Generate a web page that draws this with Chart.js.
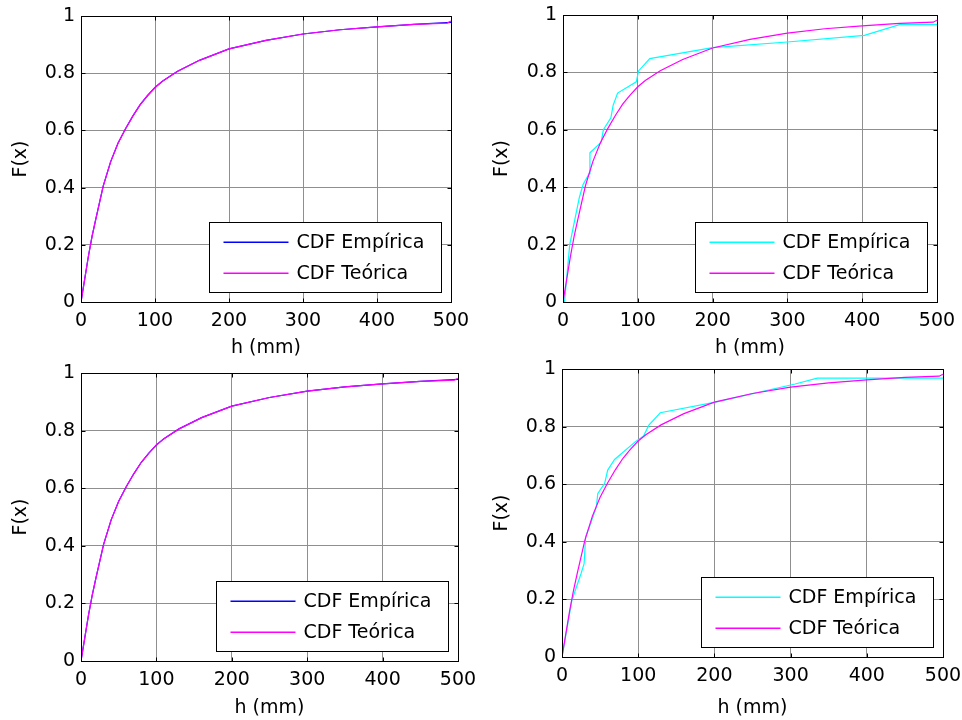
<!DOCTYPE html>
<html>
<head>
<meta charset="utf-8">
<title>CDF Empírica vs Teórica</title>
<script src="https://cdn.jsdelivr.net/npm/chart.js@4/dist/chart.umd.min.js"></script>
<style>
    html, body { margin: 0; padding: 0; background: #fff; }
    #wrap { position: relative; width: 962px; height: 720px; }
    .cell { position: absolute; width: 481px; height: 360px; }
</style>
</head>
<body>
<div id="wrap">
    <div class="cell" style="left:0;top:0"><canvas id="c1" width="481" height="360"></canvas></div>
    <div class="cell" style="left:481px;top:0"><canvas id="c2" width="481" height="360"></canvas></div>
    <div class="cell" style="left:0;top:360px"><canvas id="c3" width="481" height="360"></canvas></div>
    <div class="cell" style="left:481px;top:360px"><canvas id="c4" width="481" height="360"></canvas></div>
</div>
<script>
// Valores
const xTicks = [0, 100, 200, 300, 400, 500];
const yTicks = [0, 0.2, 0.4, 0.6, 0.8, 1];

// CDF teórica (igual nos quatro painéis)
const hTeo = [0, 5, 10, 15, 20, 30, 40, 50, 60, 70, 80, 90, 100, 110, 130, 160, 180, 200, 250, 300, 350, 400, 450, 495, 500];
const fTeo = [0, 0.08, 0.16, 0.23, 0.29, 0.405, 0.49, 0.555, 0.605, 0.65, 0.69, 0.722, 0.75, 0.772, 0.806, 0.845, 0.865, 0.885, 0.915, 0.937, 0.952, 0.962, 0.971, 0.975, 0.982];

// CDF empírica, painéis da esquerda (quase coincide com a teórica)
const hEmp1 = [0, 5, 10, 15, 20, 30, 40, 50, 60, 70, 80, 90, 100, 110, 130, 160, 180, 200, 250, 300, 350, 400, 450, 500];
const fEmp1 = [0, 0.08, 0.16, 0.23, 0.29, 0.405, 0.49, 0.555, 0.605, 0.65, 0.69, 0.722, 0.75, 0.772, 0.806, 0.845, 0.865, 0.885, 0.915, 0.937, 0.952, 0.962, 0.971, 0.978];

// CDF empírica, painel superior direito
const hEmp2 = [0, 2, 9, 22, 27, 35, 36, 51, 54, 64, 67, 73, 98, 101, 116, 200, 300, 403, 451, 500];
const fEmp2 = [0, 0, 0.2, 0.366, 0.41, 0.447, 0.52, 0.557, 0.6, 0.642, 0.685, 0.728, 0.767, 0.805, 0.848, 0.886, 0.906, 0.929, 0.967, 0.967];

// CDF empírica, painel inferior direito
const hEmp4 = [0, 13, 25, 29, 31, 36, 45, 47, 56, 60, 69, 96, 107, 114, 129, 203, 306, 335, 500];
const fEmp4 = [0, 0.197, 0.29, 0.324, 0.417, 0.452, 0.52, 0.568, 0.603, 0.649, 0.686, 0.747, 0.767, 0.805, 0.848, 0.886, 0.948, 0.968, 0.968];

const FONT = "'DejaVu Sans', 'Liberation Sans', Arial, sans-serif";
Chart.defaults.font.family = FONT;
Chart.defaults.font.size = 19;
Chart.defaults.color = '#000';

const W = 481, H = 360;

// moldura, marcas internas e legenda no estilo MATLAB
const framePlugin = {
    id: 'frame',
    afterDraw(chart) {
        const { ctx, chartArea: a, scales: { x, y } } = chart;
        const L = Math.round(a.left) + 0.5, T = Math.round(a.top) + 0.5;
        const R = Math.round(a.right) + 0.5, B = Math.round(a.bottom) + 0.5;
        ctx.save();
        ctx.strokeStyle = '#000';
        ctx.lineWidth = 1;
        ctx.beginPath();
        ctx.rect(L, T, R - L, B - T);
        x.ticks.forEach(t => {
            const px = Math.round(x.getPixelForValue(t.value)) + 0.5;
            ctx.moveTo(px, B); ctx.lineTo(px, B - 4);
            ctx.moveTo(px, T); ctx.lineTo(px, T + 4);
        });
        y.ticks.forEach(t => {
            const py = Math.round(y.getPixelForValue(t.value)) + 0.5;
            ctx.moveTo(L, py); ctx.lineTo(L + 4, py);
            ctx.moveTo(R, py); ctx.lineTo(R - 4, py);
        });
        ctx.stroke();

        // legenda
        const bw = 232, bh = 70;
        const bx = Math.round(a.right - 10 - bw) + 0.5;
        const by = Math.round(a.bottom - 10 - bh) + 0.5;
        ctx.fillStyle = '#fff';
        ctx.fillRect(bx, by, bw, bh);
        ctx.strokeRect(bx, by, bw, bh);
        ctx.font = '19px ' + FONT;
        ctx.textBaseline = 'middle';
        const rows = [19, 50];
        chart.data.datasets.forEach((ds, i) => {
            const ry = Math.round(by + rows[i]);
            ctx.fillStyle = ds.borderColor;
            ctx.fillRect(bx + 14, ry - 0.5, 65, 1.5);
            ctx.fillStyle = '#000';
            ctx.fillText(ds.label, bx + 87, ry + 1);
        });
        ctx.restore();
    }
};

function makeChart(id, plot, hEmp, fEmp, empColor) {
    const pts = (hs, fs) => hs.map((h, i) => ({ x: h, y: fs[i] }));
    new Chart(document.getElementById(id), {
        type: 'line',
        data: {
            datasets: [
                { label: 'CDF Empírica', data: pts(hEmp, fEmp), borderColor: empColor, borderWidth: 1.2, pointRadius: 0, tension: 0, order: 2 },
                { label: 'CDF Teórica', data: pts(hTeo, fTeo), borderColor: '#ff00ff', borderWidth: 1.2, pointRadius: 0, tension: 0, order: 1 }
            ]
        },
        options: {
            responsive: false,
            animation: false,
            events: [],
            layout: { padding: { left: 0, top: plot.top, right: W - plot.right, bottom: 0 } },
            plugins: { legend: { display: false }, tooltip: { enabled: false } },
            scales: {
                x: {
                    type: 'linear',
                    min: xTicks[0],
                    max: xTicks[xTicks.length - 1],
                    afterBuildTicks: s => { s.ticks = xTicks.map(v => ({ value: v })); },
                    afterFit: s => { s.height = H - plot.bottom; s.paddingLeft = 0; s.paddingRight = 0; },
                    ticks: { padding: 8, maxRotation: 0, callback: v => String(v) },
                    grid: { color: '#8f8f8f', lineWidth: 1, drawTicks: false },
                    border: { color: '#000', width: 1 },
                    title: { display: true, text: 'h (mm)', padding: { top: 0, bottom: 1 } }
                },
                y: {
                    type: 'linear',
                    min: yTicks[0],
                    max: yTicks[yTicks.length - 1],
                    afterBuildTicks: s => { s.ticks = yTicks.map(v => ({ value: v })); },
                    afterFit: s => { s.width = plot.left; s.paddingTop = 0; s.paddingBottom = 0; },
                    ticks: { padding: 6, callback: v => String(+v.toFixed(1)) },
                    grid: { color: '#8f8f8f', lineWidth: 1, drawTicks: false },
                    border: { color: '#000', width: 1 },
                    title: { display: true, text: 'F(x)', padding: { top: 10, bottom: 0 } }
                }
            }
        },
        plugins: [framePlugin]
    });
}

makeChart('c1', { left: 81, top: 16, right: 451, bottom: 302 }, hEmp1, fEmp1, '#0000ff');
makeChart('c2', { left: 82, top: 15, right: 456, bottom: 302 }, hEmp2, fEmp2, '#00ffff');
makeChart('c3', { left: 81, top: 13, right: 458, bottom: 301 }, hEmp1, fEmp1, '#0000ff');
makeChart('c4', { left: 81, top: 9, right: 462, bottom: 297 }, hEmp4, fEmp4, '#00ffff');
</script>
</body>
</html>
